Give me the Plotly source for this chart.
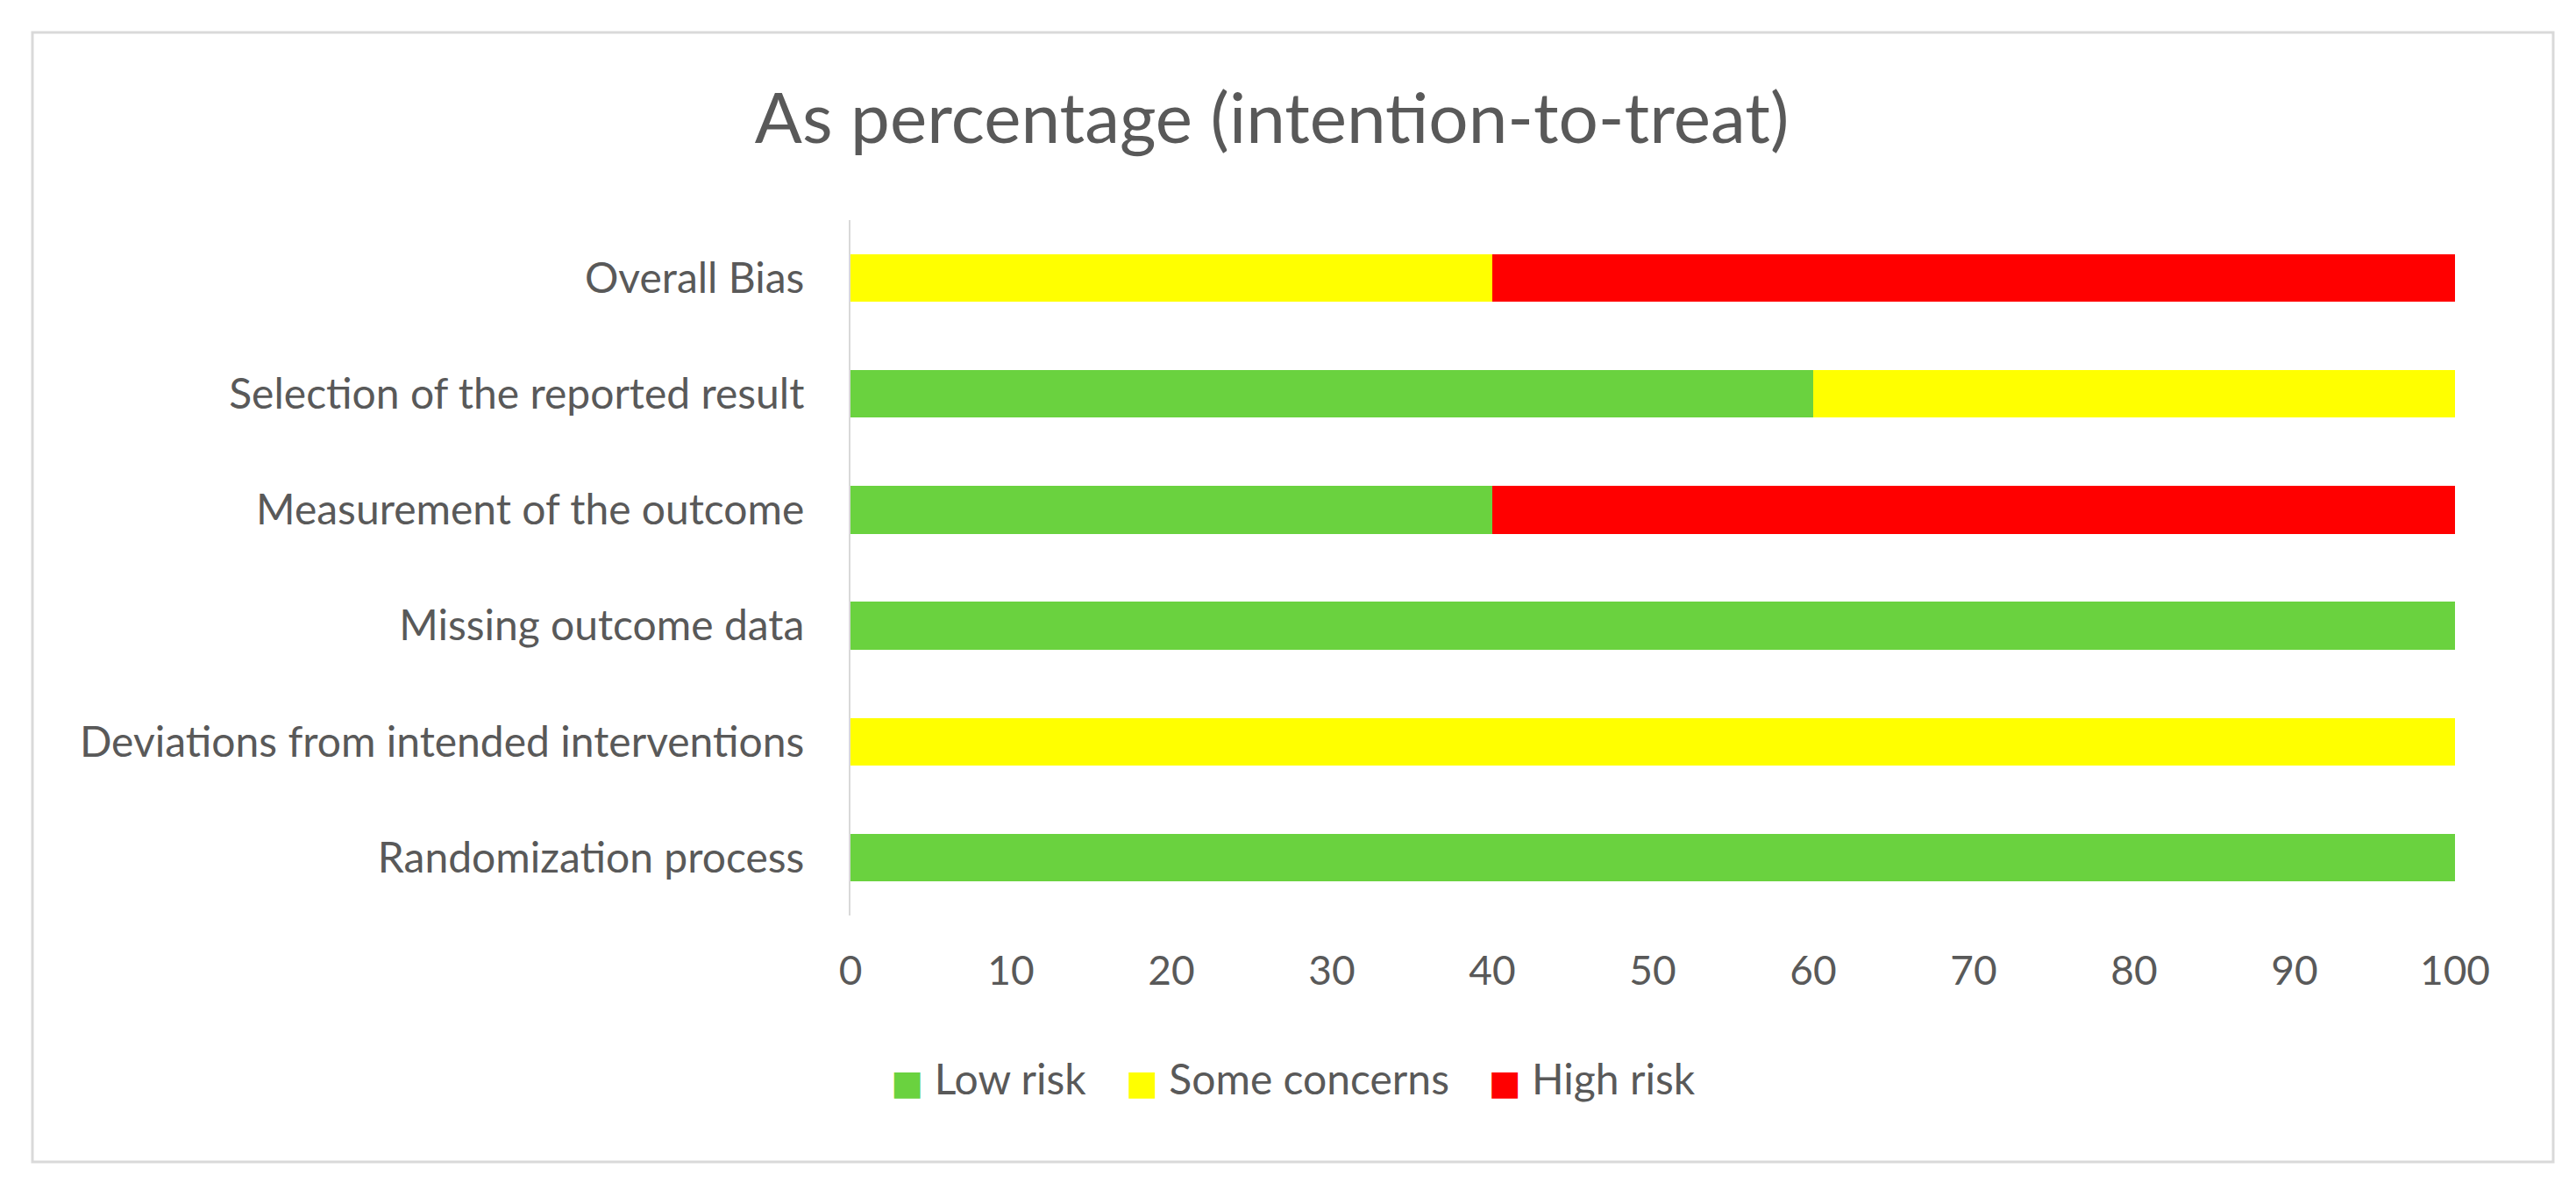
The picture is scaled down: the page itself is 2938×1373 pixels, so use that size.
import plotly.graph_objects as go

categories = [
    "Randomization process",
    "Deviations from intended interventions",
    "Missing outcome data",
    "Measurement of the outcome",
    "Selection of the reported result",
    "Overall Bias",
]
low_risk = [100, 0, 100, 40, 60, 0]
some_concerns = [0, 100, 0, 0, 40, 40]
high_risk = [0, 0, 0, 60, 0, 60]
series_names = ["Low risk", "Some concerns", "High risk"]
series_colors = ["#6AD23F", "#FFFF00", "#FF0000"]
x_ticks = list(range(0, 101, 10))

FONT = "Lato, 'Open Sans', sans-serif"
TEXT = "#595959"

fig = go.Figure()
for name, vals, col in zip(series_names, [low_risk, some_concerns, high_risk], series_colors):
    fig.add_trace(go.Bar(
        y=categories, x=vals, name=name, orientation="h",
        marker=dict(color=col, line=dict(width=0)),
        showlegend=False,
    ))
# legend entries: large square swatch drawn as a coloured glyph in the label
for name, col in zip(series_names, series_colors):
    fig.add_trace(go.Scatter(
        x=[None], y=[None], mode="markers",
        name=(f'<span style="color:{col};font-family:DejaVu Sans;font-size:39px">■</span>'
              f' {name}'),
        marker=dict(symbol="square", size=1, color="rgba(0,0,0,0)", opacity=0),
    ))

W, H = 2938, 1373
L, R, T, B = 962, 146, 243, 337
px_w = W - L - R
px_h = H - T - B

fig.update_layout(
    width=W, height=H,
    autosize=False,
    margin=dict(l=L, r=R, t=T, b=B, autoexpand=False),
    barmode="stack",
    bargap=0.59,
    paper_bgcolor="white",
    plot_bgcolor="white",
    font=dict(family=FONT, color=TEXT, size=46),
    title=dict(
        text="As percentage (intention-to-treat)",
        font=dict(family=FONT, size=80, color=TEXT),
        x=0.491, xref="container", xanchor="center",
        y=1 - 127 / H, yref="container", yanchor="middle",
    ),
    legend=dict(
        orientation="h",
        x=(1450 - L) / px_w, xref="paper", xanchor="center",
        y=-(1222 - (H - B)) / px_h, yref="paper", yanchor="middle",
        font=dict(family=FONT, size=48, color=TEXT),
        traceorder="normal",
        itemwidth=30,
    ),
    xaxis=dict(
        range=[0, 100],
        tickvals=x_ticks,
        showgrid=False,
        zeroline=False,
        showline=False,
        ticks="",
        tickangle=0,
        ticklabelstandoff=32,
        tickfont=dict(family=FONT, size=46, color=TEXT),
        fixedrange=True,
        automargin=False,
    ),
    yaxis=dict(
        categoryorder="array",
        categoryarray=categories,
        showgrid=False,
        zeroline=False,
        showline=True,
        linecolor="#D9D9D9",
        linewidth=2,
        ticks="",
        ticklabelstandoff=41,
        tickfont=dict(family=FONT, size=48, color=TEXT),
        fixedrange=True,
        automargin=False,
    ),
)

# chart border (Excel-style chart area outline)
fig.add_shape(
    type="rect", xref="paper", yref="paper",
    x0=(29 - L) / px_w, x1=(2904 - L) / px_w,
    y0=(H - B - 1317) / px_h, y1=(H - B - 29) / px_h,
    line=dict(color="#D9D9D9", width=3),
    fillcolor="rgba(0,0,0,0)",
    layer="below",
)

fig.write_html("out.html")
